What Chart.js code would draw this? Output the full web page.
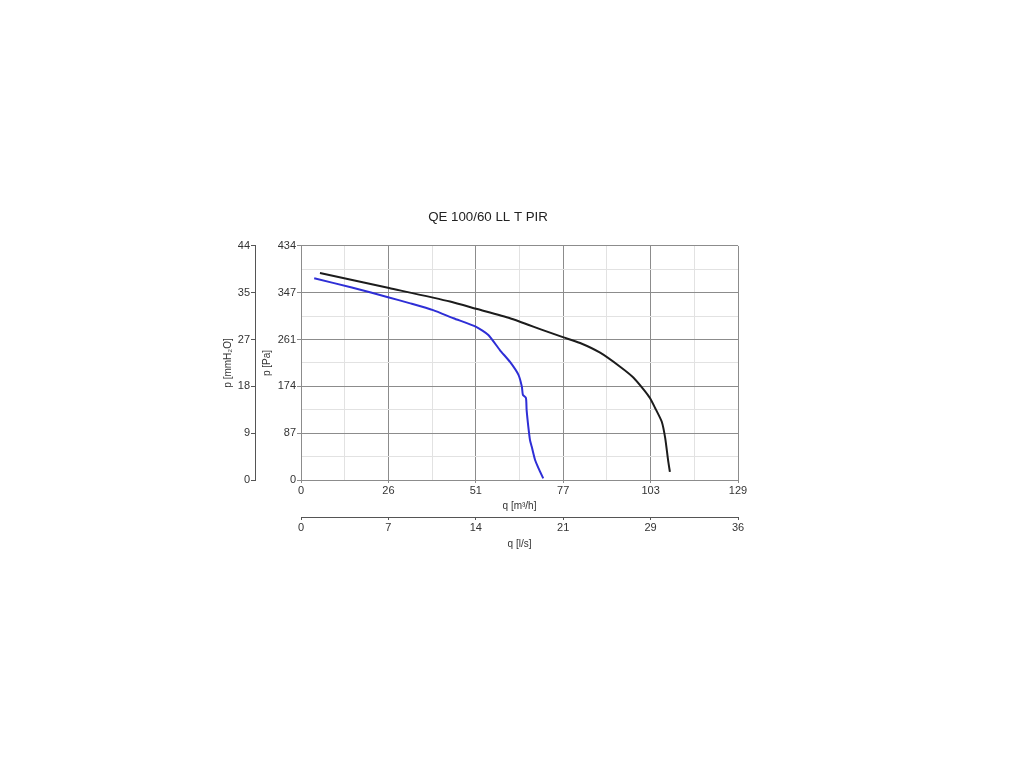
<!DOCTYPE html>
<html>
<head>
<meta charset="utf-8">
<script src="https://cdn.jsdelivr.net/npm/chart.js@4"></script>
<style>
  html, body { margin: 0; padding: 0; background: #fff; }
  canvas { display: block; }
</style>
</head>
<body>
<canvas id="chart" width="1024" height="768"></canvas>
<script>
// curve: q in m3/h, p in Pa
const qBlack = [5.6, 26, 44, 52, 61.7, 71.4, 77.3, 82.4, 88.3, 94.2, 98.1, 101.1, 103, 104.5, 106.5, 107.5, 108.4, 108.9];
const pBlack = [384, 356, 331, 317, 300, 278, 265, 254, 236, 210, 190, 168, 152, 134, 108, 78, 35, 15];
const qBlue = [3.9, 15, 25.7, 32, 39, 45, 51.7, 55.3, 58.7, 61.7, 64.2, 65.2, 65.5, 66.4, 66.6, 67.1, 67.6, 68.1, 69.1, 70.1, 71.5];
const pBlue = [374, 357, 339, 328, 315, 300, 284, 269, 241, 219, 195, 173, 158, 152, 130, 99, 74, 62, 37, 22, 3];

// axis tick labels
const qLabels = ['0', '26', '51', '77', '103', '129'];
const lsLabels = ['0', '7', '14', '21', '29', '36'];
const paLabels = ['0', '87', '174', '261', '347', '434'];
const mmLabels = ['0', '9', '18', '27', '35', '44'];

const qMax = 129;
const pMax = 434;
const lsMax = qMax / 3.6;
const mmMax = pMax / 9.81;

const txt = '#333';
const major = '#8c8c8c';
const minor = '#e2e2e2';
const font = { family: "'Liberation Sans', Arial, sans-serif", size: 11 };
const titleFont = { family: "'Liberation Sans', Arial, sans-serif", size: 10 };

function toPoints(xs, ys) {
    return xs.map((x, i) => ({ x: x, y: ys[i] }));
}

// n equal steps between 0 and max
function evenTicks(max, n) {
    const t = [];
    for (let i = 0; i <= n; i++) t.push({ value: max * i / n });
    return t;
}

const gridColor = ctx => (ctx.index % 2 ? minor : major);
const tickColor = ctx => (ctx.index % 2 ? 'rgba(0,0,0,0)' : major);

new Chart(document.getElementById('chart'), {
    type: 'scatter',
    data: {
        datasets: [{
            data: toPoints(qBlack, pBlack),
            showLine: true,
            borderColor: '#1c1c1c',
            borderWidth: 2,
            pointRadius: 0,
            tension: 0.2,
            xAxisID: 'x',
            yAxisID: 'y'
        }, {
            data: toPoints(qBlue, pBlue),
            showLine: true,
            borderColor: '#2e2ed6',
            borderWidth: 2,
            pointRadius: 0,
            tension: 0.2,
            xAxisID: 'x',
            yAxisID: 'y'
        }]
    },
    options: {
        responsive: false,
        animation: false,
        devicePixelRatio: 1,
        layout: { padding: { left: 222, right: 270, top: 209, bottom: 216 } },
        plugins: {
            legend: { display: false },
            tooltip: { enabled: false },
            title: {
                display: true,
                text: 'QE 100/60 LL T PIR',
                color: '#222',
                font: { family: "'Liberation Sans', Arial, sans-serif", size: 13.3, weight: 'normal' },
                padding: { top: 0, bottom: 21 }
            }
        },
        scales: {
            x: {
                type: 'linear',
                position: 'bottom',
                min: 0,
                max: qMax,
                afterBuildTicks: s => { s.ticks = evenTicks(qMax, 10); },
                afterFit: s => { s.height = 37; },
                ticks: {
                    autoSkip: false,
                    maxRotation: 0,
                    padding: 1,
                    color: txt,
                    font: font,
                    callback: (v, i) => (i % 2 ? '' : qLabels[i / 2])
                },
                grid: { color: gridColor, tickColor: tickColor, tickLength: 3 },
                border: { display: true, color: major },
                title: { display: true, text: 'q [m³/h]', color: txt, font: titleFont, padding: { top: 0, bottom: 5 } }
            },
            ls: {
                type: 'linear',
                position: 'bottom',
                min: 0,
                max: lsMax,
                afterBuildTicks: s => { s.ticks = evenTicks(lsMax, 5); },
                afterFit: s => { s.height = 35; },
                ticks: {
                    autoSkip: false,
                    maxRotation: 0,
                    padding: 1,
                    color: txt,
                    font: font,
                    callback: (v, i) => lsLabels[i]
                },
                grid: { display: true, drawOnChartArea: false, tickLength: 3, color: '#555' },
                border: { display: true, color: '#555' },
                title: { display: true, text: 'q [l/s]', color: txt, font: titleFont, padding: { top: 0, bottom: 2 } }
            },
            y: {
                type: 'linear',
                position: 'left',
                min: 0,
                max: pMax,
                afterBuildTicks: s => { s.ticks = evenTicks(pMax, 10); },
                afterFit: s => { s.width = 46; },
                ticks: {
                    autoSkip: false,
                    padding: 1,
                    color: txt,
                    font: font,
                    callback: (v, i) => (i % 2 ? '' : paLabels[i / 2])
                },
                grid: { color: gridColor, tickColor: tickColor, tickLength: 4 },
                border: { display: true, color: major },
                title: { display: true, text: 'p [Pa]', color: txt, font: titleFont, padding: { top: 6, bottom: 0 } }
            },
            mm: {
                type: 'linear',
                position: 'left',
                min: 0,
                max: mmMax,
                afterBuildTicks: s => { s.ticks = evenTicks(mmMax, 5); },
                afterFit: s => { s.width = 33; },
                ticks: {
                    autoSkip: false,
                    padding: 1,
                    color: txt,
                    font: font,
                    callback: (v, i) => mmLabels[i]
                },
                grid: { display: true, drawOnChartArea: false, tickLength: 4, color: '#555' },
                border: { display: true, color: '#555' },
                title: { display: true, text: 'p [mmH₂O]', color: txt, font: titleFont, padding: { top: 0, bottom: 0 } }
            },
            // empty strip on the right so the title centres like the original
            pad: {
                type: 'linear',
                position: 'right',
                display: true,
                afterFit: s => { s.width = 16; },
                ticks: { display: false },
                grid: { display: false },
                border: { display: false }
            }
        }
    }
});
</script>
</body>
</html>
